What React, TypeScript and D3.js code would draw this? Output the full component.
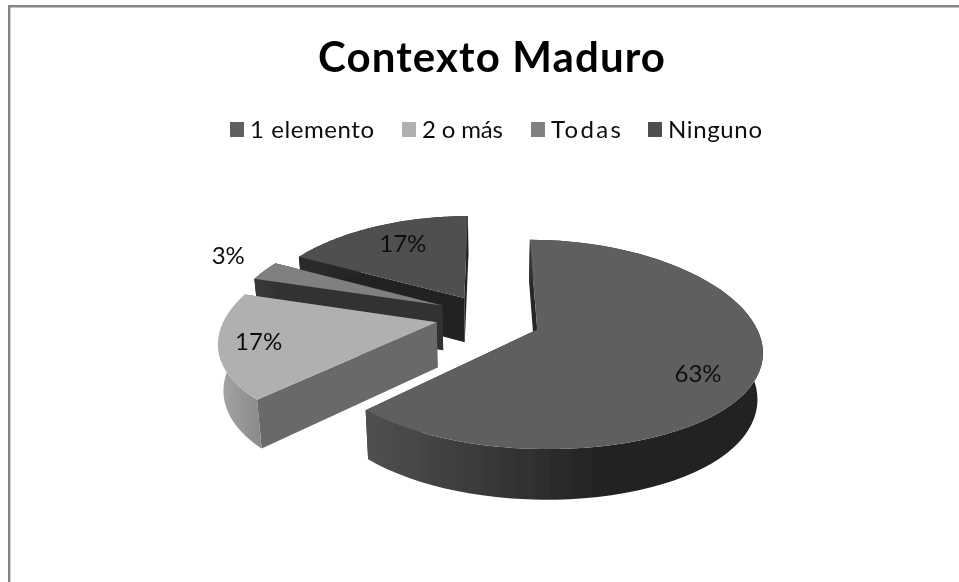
import React from "react";
import * as d3 from "d3";

const categories = ["1 elemento", "2 o más", "Todas", "Ninguno"];
const values = [62.5, 17.2, 3.1, 17.2];
const labels = ["63%", "17%", "3%", "17%"];
const topColors = ["#5f5f5f", "#b0b0b0", "#808080", "#505050"];
const title = "Contexto Maduro";

// view / projection parameters
const WIDTH = 959, HEIGHT = 582;
const PERSPECTIVE_Y = 0.14, PERSPECTIVE_X = 0.18, BOTTOM_SCALE = 0.98, DEPTH = 46;
const ORIGIN_X = 489.5, ORIGIN_Y = 320.5, RADIUS_X = 216.5, RADIUS_Y = 100;
const EXPLODE = 0.235;
const sliceNudge: [number, number][] = [[0, 0], [-3, -4], [-1, -6], [0, -3]];
const sliceRadius = [1, 0.975, 0.98, 0.98];
const labelRadius = [0.82, 0.84, 1.14, 0.65];
const labelNudge: [number, number][] = [[-19, 11], [6, -6], [-10, -15], [0, -8]];
const legendLeft = [230, 402, 531, 648];
const legendWidth = [124, 81, 70, 94];
const cutWallColors = ["#262626", "#696969", "#333333", "#222222"];
const rimStops: [string, string][] = [
  ["#505050", "#242424"],
  ["#a6a6a6", "#8c8c8c"],
  ["#3a3a3a", "#333333"],
  ["#2a2a2a", "#222222"],
];

const project = (U: number, V: number, bottom: boolean, nudge: [number, number]): [number, number] => {
  const sy = 1 / (1 - PERSPECTIVE_Y * V);
  const sx = 1 / (1 - PERSPECTIVE_X * V);
  const k = bottom ? BOTTOM_SCALE : 1;
  return [
    ORIGIN_X + RADIUS_X * U * sx * k + nudge[0],
    ORIGIN_Y + (RADIUS_Y * V + (bottom ? DEPTH : 0)) * sy * k + nudge[1],
  ];
};

const pie = d3.pie<number>().sort(null).startAngle(0).endAngle(2 * Math.PI);
const arcs = pie(values);
const line = d3.line<[number, number]>();

function sliceGeometry(i: number) {
  const { startAngle: a0, endAngle: a1 } = arcs[i];
  const mid = (a0 + a1) / 2;
  const n = sliceNudge[i];
  const rad = sliceRadius[i];
  const cu = EXPLODE * Math.sin(mid);
  const cv = -EXPLODE * Math.cos(mid);
  const at = (a: number, r: number): [number, number] => [cu + r * Math.sin(a), cv - r * Math.cos(a)];
  const angles = d3.range(0, 73).map((k) => a0 + ((a1 - a0) * k) / 72);
  const rimTop = angles.map((a) => project(...at(a, rad), false, n));
  const rimBot = angles.map((a) => project(...at(a, rad), true, n));
  const apexTop = project(cu, cv, false, n);
  const apexBot = project(cu, cv, true, n);
  const labelPos = project(...at(mid, labelRadius[i]), false, labelNudge[i]);
  return { rimTop, rimBot, apexTop, apexBot, labelPos };
}

export default function App() {
  const slices = values.map((_, i) => sliceGeometry(i));
  const order = [3, 2, 1, 0];
  return (
    <svg
      width={WIDTH}
      height={HEIGHT}
      style={{ position: "absolute", left: 0, top: 0, background: "#fff" }}
      fontFamily="Lato, 'Open Sans', sans-serif"
    >
      <defs>
        <filter id="soft" x="0" y="0" width="100%" height="100%">
          <feGaussianBlur stdDeviation="0.45" />
        </filter>
        {slices.map((s, i) => {
          const xs = s.rimTop.map((p) => p[0]);
          return (
            <linearGradient
              key={i}
              id={`rim${i}`}
              gradientUnits="userSpaceOnUse"
              x1={d3.min(xs)}
              x2={i === 0 ? (d3.min(xs)! + d3.max(xs)!) / 1.9 : d3.max(xs)}
              y1={0}
              y2={0}
            >
              <stop offset="0" stopColor={rimStops[i][0]} />
              <stop offset="1" stopColor={rimStops[i][1]} />
            </linearGradient>
          );
        })}
      </defs>
      <path d={`M9.2,${HEIGHT}V6.2H${WIDTH}`} fill="none" stroke="#858585" strokeWidth={2.4} />
      <g filter="url(#soft)">
        <text x={491.5} y={72} textAnchor="middle" fontSize={42} fontWeight={700} fill="#000" textLength={347} lengthAdjust="spacing">
          {title}
        </text>
        {order.map((i) => {
          const s = slices[i];
          const first = s.rimTop[0], last = s.rimTop[s.rimTop.length - 1];
          const firstB = s.rimBot[0], lastB = s.rimBot[s.rimBot.length - 1];
          return (
            <g key={i}>
              <path d={line([s.apexTop, s.apexBot, lastB, last])! + "Z"} fill={cutWallColors[i]} />
              <path d={line([s.apexTop, s.apexBot, firstB, first])! + "Z"} fill={cutWallColors[i]} />
              <path d={line([...s.rimTop, ...[...s.rimBot].reverse()])! + "Z"} fill={`url(#rim${i})`} />
              <path d={line([s.apexTop, ...s.rimTop])! + "Z"} fill={topColors[i]} />
            </g>
          );
        })}
        {slices.map((s, i) => (
          <text key={i} x={s.labelPos[0]} y={s.labelPos[1] + 8} textAnchor="middle" fontSize={24} fill="#111">
            {labels[i]}
          </text>
        ))}
        {categories.map((c, i) => (
          <g key={c}>
            <rect x={legendLeft[i]} y={122} width={14} height={15} fill={topColors[i]} />
            <text x={legendLeft[i] + 20} y={138} fontSize={24} fill="#111" textLength={legendWidth[i]} lengthAdjust="spacing">
              {c}
            </text>
          </g>
        ))}
      </g>
    </svg>
  );
}
